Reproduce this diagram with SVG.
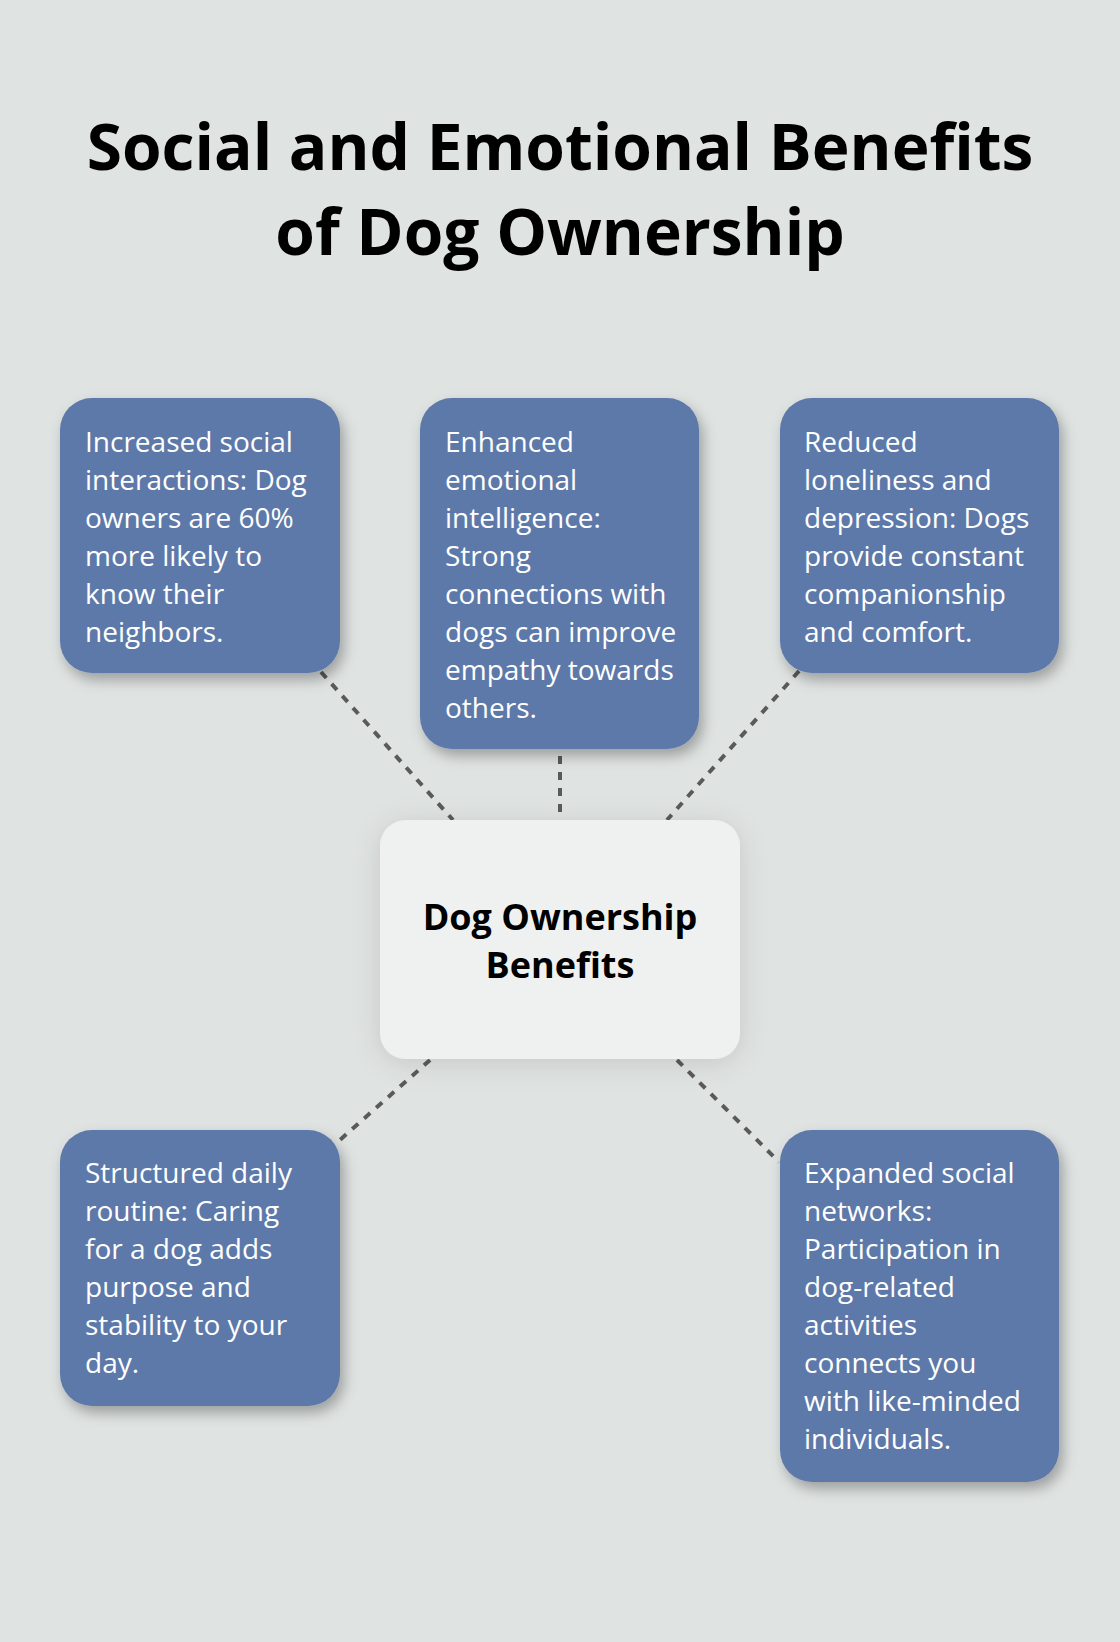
<svg xmlns="http://www.w3.org/2000/svg" width="1120" height="1642" viewBox="0 0 1120 1642">
<defs>
<filter id="sh" x="-30%" y="-30%" width="160%" height="160%">
<feDropShadow dx="4" dy="7" stdDeviation="7" flood-color="#000" flood-opacity="0.3"/>
</filter>
<filter id="shc" x="-30%" y="-30%" width="160%" height="160%">
<feDropShadow dx="0" dy="4" stdDeviation="14" flood-color="#000" flood-opacity="0.12"/>
</filter>
<style>
.box{fill:#5d79a9;filter:url(#sh)}
.t{font-family:"Open Sans","Noto Sans",sans-serif;font-size:28px;fill:#ffffff}
.title{font-family:"Open Sans","Noto Sans",sans-serif;font-weight:bold;font-size:64px;fill:#000;text-anchor:middle}
.ct{font-family:"Open Sans","Noto Sans",sans-serif;font-weight:bold;font-size:36px;fill:#000;text-anchor:middle}
.c{stroke:#5a5a5a;stroke-width:4;stroke-dasharray:8 8;fill:none}
</style>
</defs>
<rect width="1120" height="1642" fill="#dfe3e2"/>
<g id="title">
<text class="title" x="560" y="170">Social and Emotional Benefits</text>
<text class="title" x="560" y="255">of Dog Ownership</text>
</g>
<g id="connectors">
<line class="c" x1="321" y1="672" x2="453" y2="820"/>
<line class="c" x1="560" y1="756" x2="560" y2="812"/>
<line class="c" x1="799" y1="671" x2="667" y2="820"/>
<line class="c" x1="430" y1="1060" x2="332" y2="1147"/>
<line class="c" x1="677" y1="1060" x2="779" y2="1162"/>
</g>
<g id="center">
<rect x="380" y="820" width="360" height="239" rx="26" fill="#eff1f1" filter="url(#shc)"/>
<text class="ct" x="560" y="930">Dog Ownership</text>
<text class="ct" x="560" y="978">Benefits</text>
</g>
<g id="n1">
<rect class="box" x="60" y="398" width="280" height="275" rx="32"/>
<text class="t" x="85" y="452">Increased social</text>
<text class="t" x="85" y="490">interactions: Dog</text>
<text class="t" x="85" y="528">owners are 60%</text>
<text class="t" x="85" y="566">more likely to</text>
<text class="t" x="85" y="604">know their</text>
<text class="t" x="85" y="642">neighbors.</text>
</g>
<g id="n2">
<rect class="box" x="420" y="398" width="279" height="351" rx="32"/>
<text class="t" x="445" y="452">Enhanced</text>
<text class="t" x="445" y="490">emotional</text>
<text class="t" x="445" y="528">intelligence:</text>
<text class="t" x="445" y="566">Strong</text>
<text class="t" x="445" y="604">connections with</text>
<text class="t" x="445" y="642">dogs can improve</text>
<text class="t" x="445" y="680">empathy towards</text>
<text class="t" x="445" y="718">others.</text>
</g>
<g id="n3">
<rect class="box" x="780" y="398" width="279" height="275" rx="32"/>
<text class="t" x="804" y="452">Reduced</text>
<text class="t" x="804" y="490">loneliness and</text>
<text class="t" x="804" y="528">depression: Dogs</text>
<text class="t" x="804" y="566">provide constant</text>
<text class="t" x="804" y="604">companionship</text>
<text class="t" x="804" y="642">and comfort.</text>
</g>
<g id="n4">
<rect class="box" x="60" y="1130" width="280" height="276" rx="32"/>
<text class="t" x="85" y="1183">Structured daily</text>
<text class="t" x="85" y="1221">routine: Caring</text>
<text class="t" x="85" y="1259">for a dog adds</text>
<text class="t" x="85" y="1297">purpose and</text>
<text class="t" x="85" y="1335">stability to your</text>
<text class="t" x="85" y="1373">day.</text>
</g>
<g id="n5">
<rect class="box" x="780" y="1130" width="279" height="352" rx="32"/>
<text class="t" x="804" y="1183">Expanded social</text>
<text class="t" x="804" y="1221">networks:</text>
<text class="t" x="804" y="1259">Participation in</text>
<text class="t" x="804" y="1297">dog-related</text>
<text class="t" x="804" y="1335">activities</text>
<text class="t" x="804" y="1373">connects you</text>
<text class="t" x="804" y="1411">with like-minded</text>
<text class="t" x="804" y="1449">individuals.</text>
</g>
</svg>
